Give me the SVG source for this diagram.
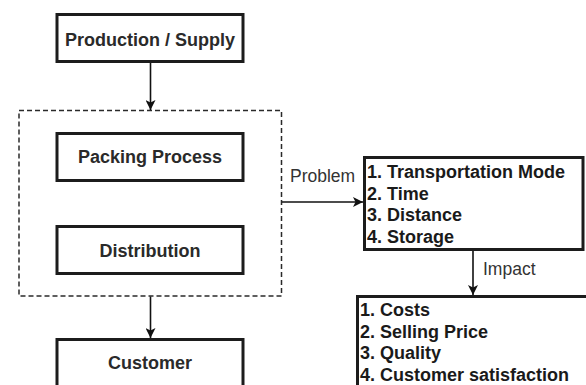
<svg xmlns="http://www.w3.org/2000/svg" width="586" height="385" viewBox="0 0 586 385">
  <defs>
    <marker id="arrow" viewBox="0 0 10 10" refX="10" refY="5" markerWidth="10" markerHeight="10" markerUnits="userSpaceOnUse" orient="auto">
      <path d="M0,0 L10,5 L0,10 L2.5,5 Z" fill="#111"/>
    </marker>
    <style>
      .box { fill: #fff; stroke: #1c1c1c; stroke-width: 3; }
      .group { fill: none; stroke: #2a2a2a; stroke-width: 1.5; stroke-dasharray: 5 3; }
      .label { font-family: "Liberation Sans", Arial, sans-serif; font-size: 18px; font-weight: bold; fill: #2a2a2a; }
      .list { font-family: "Liberation Sans", Arial, sans-serif; font-size: 18px; font-weight: bold; fill: #1a1a1a; }
      .edge-label { font-family: "Liberation Sans", Arial, sans-serif; font-size: 17.5px; fill: #333; }
      .edge { fill: none; stroke: #111; stroke-width: 1.6; marker-end: url(#arrow); }
    </style>
  </defs>
  <rect width="586" height="385" fill="#fff"/>

  <!-- dashed container around packing and distribution -->
  <g id="process-group">
    <rect class="group" x="19" y="110.5" width="262.5" height="185.5"/>
  </g>

  <g id="production">
    <rect class="box" x="57" y="14.5" width="186" height="47"/>
    <text class="label" x="150" y="46" text-anchor="middle">Production / Supply</text>
  </g>

  <g id="packing">
    <rect class="box" x="57" y="133.5" width="186" height="47"/>
    <text class="label" x="150" y="163" text-anchor="middle">Packing Process</text>
  </g>

  <g id="distribution">
    <rect class="box" x="57" y="226.5" width="186" height="47"/>
    <text class="label" x="150" y="257" text-anchor="middle">Distribution</text>
  </g>

  <g id="customer">
    <rect class="box" x="57" y="339.5" width="186" height="48"/>
    <text class="label" x="150" y="369" text-anchor="middle">Customer</text>
  </g>

  <g id="problems">
    <rect class="box" x="364.5" y="157.5" width="218.5" height="92"/>
    <text class="list" x="367" y="178">1. Transportation Mode</text>
    <text class="list" x="367" y="199.5">2. Time</text>
    <text class="list" x="367" y="221">3. Distance</text>
    <text class="list" x="367" y="242.5">4. Storage</text>
  </g>

  <g id="impacts">
    <rect class="box" x="357.5" y="296.5" width="240" height="100"/>
    <text class="list" x="360" y="316">1. Costs</text>
    <text class="list" x="360" y="337.5">2. Selling Price</text>
    <text class="list" x="360" y="359">3. Quality</text>
    <text class="list" x="360" y="380.5">4. Customer satisfaction</text>
  </g>

  <g id="connectors">
    <line class="edge" x1="150.5" y1="63" x2="150.5" y2="110"/>
    <line class="edge" x1="150.5" y1="296.5" x2="150.5" y2="338"/>
    <line class="edge" x1="282" y1="202" x2="363" y2="202"/>
    <line class="edge" x1="473" y1="251" x2="473" y2="295"/>
    <text class="edge-label" x="290" y="182">Problem</text>
    <text class="edge-label" x="483" y="275">Impact</text>
  </g>
</svg>
